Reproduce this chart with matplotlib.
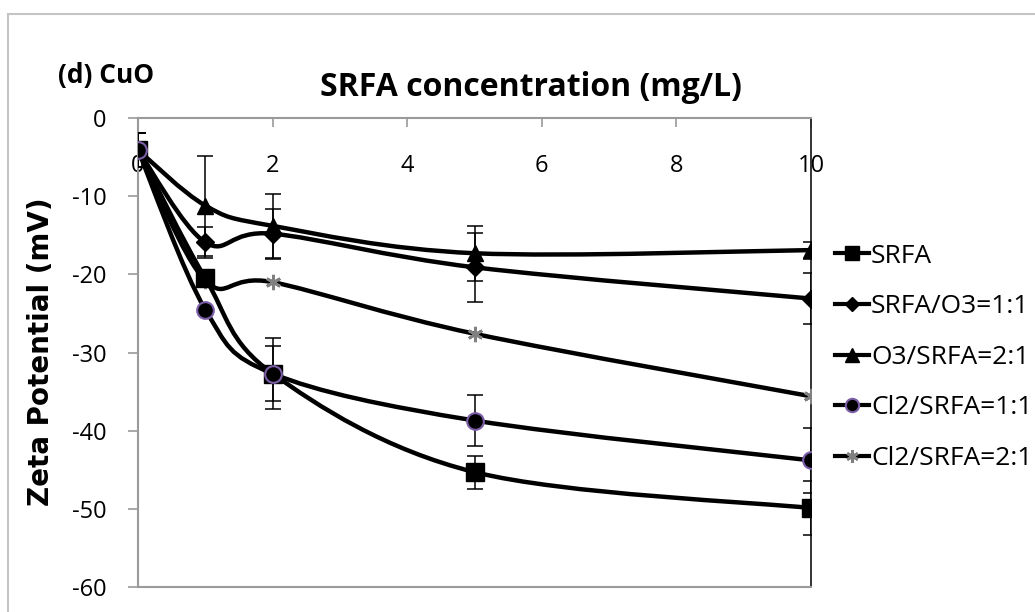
import matplotlib
matplotlib.use("Agg")
import matplotlib.pyplot as plt
from matplotlib.path import Path
from matplotlib.patches import PathPatch, Rectangle
from matplotlib.lines import Line2D
import numpy as np

# ---- data ----
conc = [0, 1, 2, 5, 10]
labels = ["SRFA", "SRFA/O3=1:1", "O3/SRFA=2:1", "Cl2/SRFA=1:1", "Cl2/SRFA=2:1"]
srfa = [-4.1, -20.5, -32.7, -45.3, -49.9]
srfa_o3 = [-4.1, -15.9, -14.8, -19.1, -23.1]
o3_srfa = [-4.1, -11.2, -13.8, -17.3, -16.9]
cl2_11 = [-4.1, -24.5, -32.7, -38.7, -43.8]
cl2_21 = [-4.1, -20.8, -21.0, -27.6, -35.6]
err_srfa = [2.2, 0.0, 3.5, 2.1, 3.5]
err_srfa_o3 = [2.2, 2.0, 3.2, 4.4, 3.3]
err_o3_srfa = [2.2, 6.4, 4.1, 3.5, 1.1]
err_cl2_11 = [2.2, 0.0, 4.5, 3.3, 4.2]
err_cl2_21 = [0.0, 0.0, 0.0, 0.0, 0.0]
xticks = [0, 2, 4, 6, 8, 10]
yticks = [0, -10, -20, -30, -40, -50, -60]

series = [srfa, srfa_o3, o3_srfa, cl2_11, cl2_21]
errors = [err_srfa, err_srfa_o3, err_o3_srfa, err_cl2_11, err_cl2_21]
styles = [
    dict(marker="s", ms=13, mfc="black", mec="black", mew=1),
    dict(marker="D", ms=9, mfc="black", mec="black", mew=1),
    dict(marker="^", ms=12, mfc="black", mec="black", mew=1),
    dict(marker="o", ms=12, mfc="black", mec="#7b5ea7", mew=1.5),
    dict(marker=(6, 2, 0), ms=11, mfc="#808080", mec="#808080", mew=2),
]
marker_z = [9.0, 8.0, 8.2, 9.5, 7.5]

W, H = 1035, 612
fig = plt.figure(figsize=(W / 100, H / 100), dpi=100)
ax = fig.add_axes([138 / W, 1 - 587 / H, (811 - 138) / W, (587 - 118) / H])
ax.set_xlim(0, 10)
ax.set_ylim(-60, 0)


def smooth_path(xs, ys):
    pts = np.column_stack([xs, ys]).astype(float)
    n = len(pts)
    verts = [pts[0]]
    codes = [Path.MOVETO]
    for i in range(n - 1):
        p0 = pts[i - 1] if i > 0 else pts[i]
        p1 = pts[i]
        p2 = pts[i + 1]
        p3 = pts[i + 2] if i + 2 < n else pts[i + 1]
        c1 = p1 + (p2 - p0) / 6.0
        c2 = p2 - (p3 - p1) / 6.0
        verts += [c1, c2, p2]
        codes += [Path.CURVE4] * 3
    return Path(verts, codes)


for k, (ys, es, st) in enumerate(zip(series, errors, styles)):
    z = 3 + k * 0.5
    ax.add_patch(PathPatch(smooth_path(conc, ys), fill=False, lw=3.2,
                           edgecolor="black", zorder=z, capstyle="round", joinstyle="round"))
    if any(e > 0 for e in es):
        xe = [x for x, e in zip(conc, es) if e > 0]
        ye = [y for y, e in zip(ys, es) if e > 0]
        ee = [e for e in es if e > 0]
        ax.errorbar(xe, ye, yerr=ee, fmt="none", ecolor="black", elinewidth=1.1,
                    capsize=6, capthick=1.1, zorder=z)
    ax.plot(conc, ys, linestyle="none", zorder=marker_z[k], **st)

# axes styling
for s in ["left", "top", "bottom"]:
    ax.spines[s].set_color("#9a9a9a")
    ax.spines[s].set_linewidth(1.5)
ax.spines["right"].set_color("#222222")
ax.spines["right"].set_linewidth(1.3)

ax.set_yticks(yticks)
ax.set_yticklabels([str(v) for v in yticks])
ax.tick_params(axis="y", direction="out", length=7.5, width=1.2, color="#9a9a9a",
               pad=15, labelsize=17)
ax.xaxis.tick_top()
ax.set_xticks(xticks)
ax.set_xticklabels([str(v) for v in xticks])
ax.tick_params(axis="x", direction="in", length=6.5, width=1.2, color="#9a9a9a",
               pad=-43, labelsize=17)
for lab in ax.get_xticklabels() + ax.get_yticklabels():
    lab.set_fontfamily("Open Sans")

# titles
fig.text(531 / W, 1 - 88 / H, "SRFA concentration (mg/L)", fontsize=23,
         fontweight="bold", family="Open Sans", ha="center", va="center")
fig.text(58 / W, 1 - 75 / H, "(d) CuO", fontsize=19, fontweight="bold",
         family="Open Sans", ha="left", va="center")
fig.text(41 / W, 1 - 352 / H, "Zeta Potential (mV)", fontsize=20, fontweight="bold",
         family="DejaVu Sans", rotation=90, ha="center", va="center")

# legend
handles = [Line2D([0], [0], color="black", lw=3, **st) for st in styles]
leg = fig.legend(handles, labels, loc="upper left",
                 bbox_to_anchor=(824 / W, 1 - 233 / H), frameon=False,
                 prop={"family": "Open Sans", "size": 19}, handlelength=1.3,
                 handletextpad=0.08, labelspacing=0.97, borderaxespad=0, markerscale=0.8)

# outer frame
fig.patches.append(Rectangle((8 / W, -0.1), 1.2, 1.1 - 14 / H, transform=fig.transFigure,
                             fill=False, edgecolor="#c4c4c4", lw=1.5))

fig.savefig("out.png", dpi=100)
